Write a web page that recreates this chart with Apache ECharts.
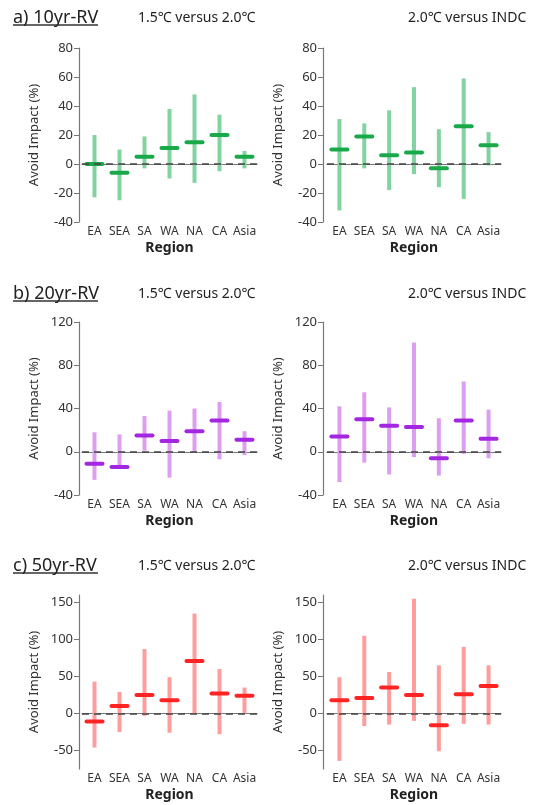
<!DOCTYPE html>
<html><head><meta charset="utf-8">
<script src="https://cdn.jsdelivr.net/npm/echarts@6/dist/echarts.min.js"></script>
<style>html,body{margin:0;padding:0;background:#fff}#c{width:540px;height:805px}</style>
</head><body><div id="c"></div>
<script>
const regions = ['EA','SEA','SA','WA','NA','CA','Asia'];
// a) 10yr-RV
const a1Low  = [-23,-25,-3,-10,-13,-5,-3];
const a1High = [20,10,19,38,48,34,9];
const a1Med  = [0,-6,5,11,15,20,5];
const a2Low  = [-32,-3,-18,-7,-16,-24,-1];
const a2High = [31,28,37,53,24,59,22];
const a2Med  = [10,19,6,8,-3,26,13];
// b) 20yr-RV
const b1Low  = [-26,-15,1,-24,0,-7,-3];
const b1High = [18,16,33,38,40,46,19];
const b1Med  = [-11,-14,15,10,19,29,11];
const b2Low  = [-28,-10,-21,-5,-22,-2,-6];
const b2High = [42,55,41,101,31,65,39];
const b2Med  = [14,30,24,23,-6,29,12];
// c) 50yr-RV
const c1Low  = [-46,-25,-3,-26,0,-28,0];
const c1High = [43,29,87,49,135,60,35];
const c1Med  = [-11,10,25,18,71,27,24];
const c2Low  = [-64,-17,-15,-10,-51,-14,-15];
const c2High = [49,105,56,155,65,90,65];
const c2Med  = [18,21,35,25,-16,26,37];

const rowTitles = ['a) 10yr-RV','b) 20yr-RV','c) 50yr-RV'];
const subTitles = ['1.5℃ versus 2.0℃','2.0℃ versus INDC'];
const yTicksA = [-40,-20,0,20,40,60,80];
const yTicksB = [-40,0,40,80,120];
const yTicksC = [-50,0,50,100,150];

const FONT = 'Noto Sans';
const colors = [
  {light:'#82d39f', dark:'#19a94b'},
  {light:'#dd9ef0', dark:'#a326e0'},
  {light:'#ff9c9c', dark:'#ff2424'}
];
const panels = [
  {low:a1Low, high:a1High, med:a1Med, row:0, col:0},
  {low:a2Low, high:a2High, med:a2Med, row:0, col:1},
  {low:b1Low, high:b1High, med:b1Med, row:1, col:0},
  {low:b2Low, high:b2High, med:b2Med, row:1, col:1},
  {low:c1Low, high:c1High, med:c1Med, row:2, col:0},
  {low:c2Low, high:c2High, med:c2Med, row:2, col:1}
];
const rowGeo = [
  {top:48, height:174, min:-40, max:80, ticks:yTicksA, titleY:18},
  {top:322, height:173, min:-40, max:120, ticks:yTicksB, titleY:294},
  {top:595, height:174, min:-75, max:160, ticks:yTicksC, titleY:566}
];
const colGeo = [
  {left:82, width:175, offset:3},
  {left:327, width:174, offset:4}
];

const grids=[], xAxes=[], yAxes=[], series=[], titles=[], graphics=[];
panels.forEach((p,i)=>{
  const rg = rowGeo[p.row], cg = colGeo[p.col], col = colors[p.row];
  grids.push({left:cg.left, top:rg.top, width:cg.width, height:rg.height});
  xAxes.push({
    type:'category', gridIndex:i, data:regions,
    axisLine:{show:true, lineStyle:{color:'#777', width:1.2}},
    axisTick:{show:false},
    axisLabel:{color:'#333', fontSize:12, fontFamily:FONT, margin:4, interval:0},
    name:'Region', nameLocation:'middle', nameGap:19,
    nameTextStyle:{color:'#222', fontSize:14, fontWeight:'bold', fontFamily:FONT}
  });
  yAxes.push({
    type:'value', gridIndex:i, min:rg.min, max:rg.max, offset:cg.offset,
    axisLine:{show:true, lineStyle:{color:'#777', width:1.2}},
    axisTick:{show:true, length:5, inside:false, customValues:rg.ticks, lineStyle:{color:'#777'}},
    axisLabel:{color:'#333', fontSize:13, fontFamily:FONT, margin:6, customValues:rg.ticks},
    splitLine:{show:false},
    name:'Avoid Impact (%)', nameLocation:'middle', nameGap:38, nameRotate:90,
    nameTextStyle:{color:'#333', fontSize:13, fontFamily:FONT}
  });
  const data = regions.map((r,k)=>[k, p.low[k], p.high[k], p.med[k]]);
  series.push({
    type:'custom', xAxisIndex:i, yAxisIndex:i, data:data,
    encode:{x:0, y:[1,2,3]},
    renderItem:function(params, api){
      const x = api.value(0);
      const pl = api.coord([x, api.value(1)]);
      const ph = api.coord([x, api.value(2)]);
      const pm = api.coord([x, api.value(3)]);
      return {type:'group', children:[
        {type:'rect', shape:{x:pl[0]-2, y:ph[1], width:4, height:pl[1]-ph[1]}, style:{fill:col.light}},
        {type:'rect', shape:{x:pm[0]-10, y:pm[1]-2, width:20, height:4, r:2}, style:{fill:col.dark}}
      ]};
    },
    markLine:{
      silent:true, symbol:['none','none'], z:5,
      label:{show:false},
      lineStyle:{type:[7,5], color:'#444', width:1.5},
      data:[{yAxis:0}]
    }
  });
});

rowGeo.forEach((rg,r)=>{
  titles.push({text:rowTitles[r], left:13, top:rg.titleY-9, padding:0,
    textStyle:{fontSize:18, lineHeight:18, fontWeight:'normal', color:'#222', fontFamily:FONT}});
  titles.push({text:subTitles[0], left:138, top:rg.titleY-7, padding:0,
    textStyle:{fontSize:14, lineHeight:14, fontWeight:'normal', color:'#222', fontFamily:FONT}});
  titles.push({text:subTitles[1], left:408, top:rg.titleY-7, padding:0,
    textStyle:{fontSize:14, lineHeight:14, fontWeight:'normal', color:'#222', fontFamily:FONT}});
  graphics.push({type:'line', shape:{x1:13, y1:rg.titleY+7, x2:98, y2:rg.titleY+7},
    style:{stroke:'#333', lineWidth:1.3}});
});

const chart = echarts.init(document.getElementById('c'), null, {renderer:'canvas'});
chart.setOption({
  animation:false,
  backgroundColor:'#fff',
  title:titles, grid:grids, xAxis:xAxes, yAxis:yAxes, series:series, graphic:graphics
});
</script></body></html>
